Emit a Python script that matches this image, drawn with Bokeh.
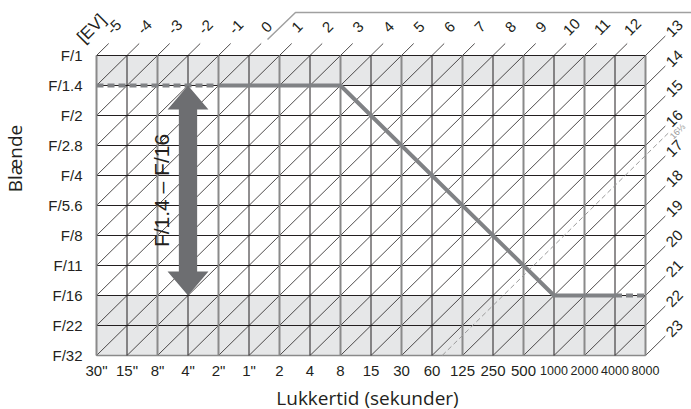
import math
from bokeh.plotting import figure
from bokeh.models import Range1d
from bokeh.core.properties import value
from bokeh.embed import file_html
from bokeh.resources import INLINE

# ---------------- data ----------------
shutter_labels = ['30"', '15"', '8"', '4"', '2"', '1"', "2", "4", "8", "15", "30",
                  "60", "125", "250", "500", "1000", "2000", "4000", "8000"]
aperture_labels = ["F/1", "F/1.4", "F/2", "F/2.8", "F/4", "F/5.6", "F/8",
                   "F/11", "F/16", "F/22", "F/32"]          # top -> bottom
ev_values = list(range(-5, 24))                             # EV lines -5 .. 23
ev_limit = 16 + 1 / 3                                       # dashed limit line
ev_limit_label = "16⅓"
# program line: (shutter index, aperture index from top)
prog_dash1_s = [0, 4];            prog_dash1_a = [1, 1]
prog_solid_s = [4, 8, 15, 17];    prog_solid_a = [1, 1, 8, 8]
prog_dash2_s = [17, 18];          prog_dash2_a = [8, 8]
# aperture range arrow (shutter index, from / to aperture index)
arrow_s = 3
arrow_from = 1   # F/1.4
arrow_to = 8     # F/16
arrow_label = "F/1.4 – F/16"
shaded_rows = [(0, 1), (8, 10)]   # aperture index spans shaded grey

NS = len(shutter_labels) - 1      # 18 columns
NA = len(aperture_labels) - 1     # 10 rows

def ay(a):                        # aperture index (top=0) -> y
    return NA - a

# ---------------- figure ----------------
W, H = 691, 409
GX, GY = 96, 355      # pixel position of grid origin
SX, SY = 30.5, 30.0   # pixels per cell
p = figure(width=W, height=H, output_backend="svg", toolbar_location=None,
           x_range=Range1d(-GX / SX, (W - GX) / SX),
           y_range=Range1d(-(H - GY) / SY, GY / SY),
           min_border=0)
p.axis.visible = False
p.grid.visible = False
p.outline_line_color = None
p.background_fill_color = "white"
p.border_fill_color = "white"

def px(x):   # pixel -> data helpers for free text placement
    return (x - GX) / SX
def py(y):
    return (GY - y) / SY

FONT = value("Liberation Sans")
DARK = "#231f20"
GRAY = "#8a8a8a"

# shaded rows
for a1, a2 in shaded_rows:
    p.quad(left=0, right=NS, bottom=ay(a2), top=ay(a1),
           fill_color="#e6e7e8", line_color=None)

# diagonals (EV lines)
top_ext, right_ext = 0.4, 0.65
top_lbl, right_lbl = [], []
for e in ev_values:
    c = 5 - e
    lo = (0, c) if c >= 0 else (-c, 0)
    if NS + c <= NA:
        hi = (NS, NS + c)
        ext = right_ext
        right_lbl.append((NS + 0.95, NS + c + 0.9, str(e)))
    else:
        hi = (NA - c, NA)
        ext = top_ext
        top_lbl.append((NA - c + 0.58, NA + 0.95, str(e)))
    p.line([lo[0], hi[0] + ext], [lo[1], hi[1] + ext], line_color=DARK, line_width=0.8)

# horizontal lines
for j in range(NA + 1):
    col = GRAY if j == 0 else DARK
    p.line([0, NS], [j, j], line_color=col, line_width=1.5 if j == 0 else 1)
# vertical lines
for i in range(NS + 1):
    if i % 2 == 0:
        p.line([i, i], [0, NA], line_color=GRAY, line_width=2)
    else:
        p.line([i, i], [0, NA], line_color=DARK, line_width=1)

# dashed EV limit line
cl = 5 - ev_limit
p.line([-cl, NS + 0.75], [0, NS + cl + 0.75], line_color="#9a9a9a",
       line_width=1, line_dash="5 3")
p.text(x=[NS + 1.05], y=[NS + cl + 0.8], text=[ev_limit_label], angle=45,
       angle_units="deg", text_font=FONT, text_font_size="9px",
       text_color="#9a9a9a", text_align="center", text_baseline="middle")

# decoration line at top
p.line([px(267), px(295), px(691)], [py(39), py(12), py(12)],
       line_color="#a0a0a0", line_width=1.5)

# program line
PC = "#808285"
p.line(prog_dash1_s, [ay(a) for a in prog_dash1_a], line_color=PC, line_width=4,
       line_dash="7 4")
p.line(prog_solid_s, [ay(a) for a in prog_solid_a], line_color=PC, line_width=4)
p.line(prog_dash2_s, [ay(a) for a in prog_dash2_a], line_color=PC, line_width=4,
       line_dash="7 4")

# arrow
hw, sw, hl = 0.67, 0.3, 0.8
yt, yb = ay(arrow_from), ay(arrow_to)
ax = [arrow_s, arrow_s + hw, arrow_s + sw, arrow_s + sw, arrow_s + hw, arrow_s,
      arrow_s - hw, arrow_s - sw, arrow_s - sw, arrow_s - hw]
ayy = [yt, yt - hl, yt - hl, yb + hl, yb + hl, yb, yb + hl, yb + hl, yt - hl, yt - hl]
p.patch(ax, ayy, fill_color="#6d6e71", line_color=None)
p.text(x=[arrow_s - 0.87], y=[(yt + yb) / 2], text=[arrow_label], angle=90,
       angle_units="deg", text_font=FONT, text_font_size="21px", text_color=DARK,
       text_align="center", text_baseline="middle")

# EV labels
p.text(x=[t[0] for t in top_lbl], y=[t[1] for t in top_lbl], text=[t[2] for t in top_lbl],
       angle=45, angle_units="deg", text_font=FONT, text_font_size="15px",
       text_color=DARK, text_align="center", text_baseline="middle")
p.text(x=[t[0] for t in right_lbl], y=[t[1] for t in right_lbl],
       text=[t[2] for t in right_lbl], angle=45, angle_units="deg", text_font=FONT,
       text_font_size="15px", text_color=DARK, text_align="center",
       text_baseline="middle")
p.text(x=[px(91)], y=[py(28)], text=["[EV]"], angle=45, angle_units="deg",
       text_font=FONT, text_font_size="17px", text_color=DARK, text_align="center",
       text_baseline="middle")

# aperture labels
p.text(x=[px(82)] * len(aperture_labels), y=[ay(a) for a in range(len(aperture_labels))],
       text=aperture_labels, text_font=FONT, text_font_size="15px", text_color=DARK,
       text_align="right", text_baseline="middle")

# shutter labels
short = [(i, s) for i, s in enumerate(shutter_labels) if len(s) < 4]
longl = [(i, s) for i, s in enumerate(shutter_labels) if len(s) >= 4]
p.text(x=[i for i, s in short], y=[py(370)] * len(short), text=[s for i, s in short],
       text_font=FONT, text_font_size="15px", text_color=DARK,
       text_align="center", text_baseline="middle")
p.text(x=[i for i, s in longl], y=[py(370)] * len(longl), text=[s for i, s in longl],
       text_font=FONT, text_font_size="12.5px", text_color=DARK,
       text_align="center", text_baseline="middle")

# axis titles
p.text(x=[px(367)], y=[py(397)], text=["Lukkertid (sekunder)"],
       text_font=value("Open Sans"), text_font_size="19px", text_color=DARK,
       text_align="center", text_baseline="middle")
p.text(x=[px(14)], y=[py(158)], text=["Blænde"], angle=90,
       angle_units="deg", text_font=value("Open Sans"), text_font_size="19px",
       text_color=DARK, text_align="center", text_baseline="middle")

open("out.html", "w").write(file_html(p, INLINE))
